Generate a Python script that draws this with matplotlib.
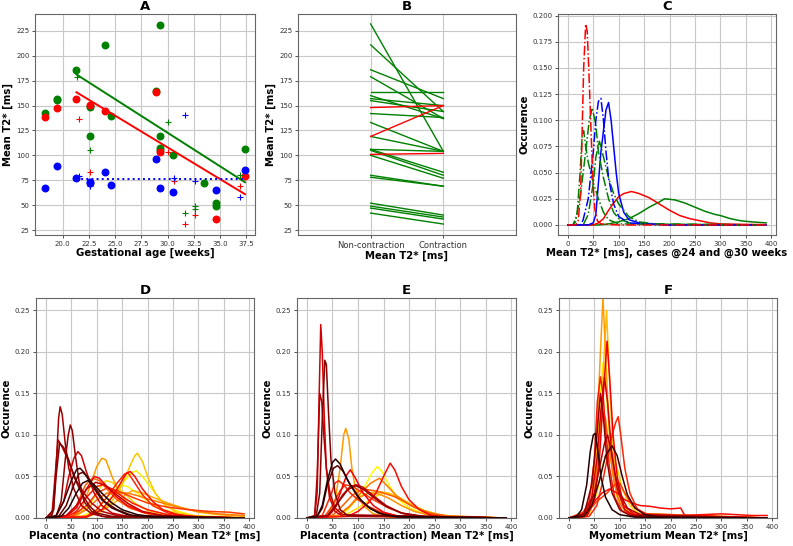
import matplotlib
matplotlib.use("Agg")
import matplotlib.pyplot as plt
import numpy as np

# ---- panel A: mean T2* vs gestational age ----
green_o_x = [18.3, 19.4, 19.4, 21.3, 22.6, 22.6, 22.6, 24.0, 24.6, 28.9, 29.3, 29.3, 29.3, 29.3, 30.5, 33.5, 34.6, 34.6, 37.4]
green_o_y = [142.6, 156.7, 155.3, 185.6, 150.0, 148.6, 119.6, 210.5, 139.1, 164.4, 231.0, 119.6, 107.2, 105.5, 100.5, 71.9, 51.7, 49.2, 106.2]
red_o_x = [18.3, 19.4, 21.3, 22.6, 24.0, 28.9, 29.3, 34.6, 37.4]
red_o_y = [138.2, 147.6, 156.7, 151.0, 144.2, 163.4, 103.8, 36.5, 79.2]
blue_o_x = [18.3, 19.4, 21.3, 22.6, 22.6, 24.0, 24.6, 28.9, 29.3, 30.5, 34.6, 37.4]
blue_o_y = [66.8, 89.4, 76.9, 73.5, 72.0, 83.0, 70.2, 96.1, 67.4, 63.4, 65.1, 85.3]
green_p_x = [21.4, 22.6, 30.0, 31.7, 32.6, 32.6, 36.9]
green_p_y = [178.9, 105.5, 133.5, 41.6, 49.2, 46.6, 80.3]
red_p_x = [21.5, 22.6, 30.0, 30.6, 31.7, 32.6, 36.9]
red_p_y = [136.5, 83.0, 103.2, 74.5, 31.5, 40.0, 69.1]
blue_p_x = [21.5, 22.6, 30.6, 31.7, 32.6, 36.9]
blue_p_y = [79.2, 69.1, 76.9, 140.2, 74.5, 57.7]
fit_x = [21.3, 37.4]
green_fit_y = [181.3, 73.0]
red_fit_y = [163.4, 61.0]
blue_fit_y = [76.0, 76.0]

# ---- panel B: paired non-contraction / contraction ----
b_green_before = [232, 211, 186, 179, 164, 160, 157, 155, 142, 133, 119, 106, 106, 105, 100, 80, 78, 52, 49, 47, 42]
b_green_after = [104, 144, 157, 137, 164, 137, 150, 144, 138, 104, 104, 104, 83, 80, 77, 69, 69, 40, 38, 36, 31]
b_red_before = [148, 119, 101]
b_red_after = [150, 150, 102]
b_labels = ["Non-contraction", "Contraction"]

# ---- panel C: two cases (solid @24, dash-dot @30) ----
c_green_24 = [(0, 0), (60, 0), (80, 0.001), (100, 0.003), (120, 0.006), (140, 0.011), (160, 0.017), (180, 0.022), (190, 0.025),
              (210, 0.024), (230, 0.021), (250, 0.017), (270, 0.013), (290, 0.010), (300, 0.009), (320, 0.006),
              (340, 0.004), (360, 0.003), (390, 0.002)]
c_red_24 = [(0, 0), (50, 0), (60, 0.002), (70, 0.006), (80, 0.014), (90, 0.021), (100, 0.027), (110, 0.030), (125, 0.032),
            (140, 0.030), (160, 0.026), (180, 0.020), (200, 0.014), (220, 0.009), (240, 0.006), (260, 0.004),
            (280, 0.002), (300, 0.001), (350, 0.0005), (390, 0.0003)]
c_blue_24 = [(0, 0), (40, 0), (50, 0.002), (55, 0.01), (60, 0.04), (65, 0.07), (70, 0.09), (75, 0.11), (80, 0.117),
             (85, 0.10), (90, 0.075), (95, 0.05), (100, 0.03), (110, 0.012), (120, 0.005), (140, 0.002),
             (160, 0.001), (200, 0), (390, 0)]
c_red_30 = [(0, 0), (15, 0), (20, 0.003), (25, 0.03), (28, 0.09), (31, 0.15), (35, 0.192), (38, 0.185), (41, 0.15),
            (44, 0.11), (47, 0.07), (50, 0.035), (53, 0.015), (58, 0.004), (65, 0.001), (100, 0), (390, 0)]
c_blue_30 = [(0, 0), (25, 0), (30, 0.005), (40, 0.025), (50, 0.07), (55, 0.10), (60, 0.118), (65, 0.121), (70, 0.10),
             (75, 0.07), (80, 0.045), (90, 0.02), (100, 0.008), (120, 0.002), (150, 0.001), (200, 0), (390, 0)]
c_green_30 = [(0, 0), (10, 0), (15, 0.003), (25, 0.03), (35, 0.07), (42, 0.10), (48, 0.112), (55, 0.095), (60, 0.07),
              (70, 0.045), (80, 0.025), (90, 0.012), (100, 0.006), (120, 0.002), (150, 0.0005), (390, 0)]
c_green_30b = [(0, 0), (10, 0), (18, 0.01), (24, 0.05), (28, 0.085), (31, 0.09), (35, 0.075), (40, 0.06), (45, 0.05),
               (50, 0.04), (60, 0.025), (70, 0.012), (80, 0.005), (100, 0.001), (390, 0)]
c_green_30c = [(0, 0), (30, 0), (40, 0.01), (50, 0.04), (55, 0.065), (62, 0.08), (70, 0.065), (80, 0.045), (90, 0.03),
               (100, 0.02), (120, 0.008), (140, 0.003), (170, 0.001), (390, 0)]

# ---- panel D: placenta, no contraction (shade = position in 'hot' colormap) ----
d_shade = [0.22, 0.20, 0.25, 0.18, 0.30, 0.08, 0.04, 0.12, 0.35, 0.40, 0.60, 0.66, 0.38, 0.42, 0.72, 0.55, 0.45,
           0.62, 0.74, 0.50, 0.68, 0.28]
d_curves = [
    [(0, 0), (10, 0), (15, 0.01), (20, 0.06), (25, 0.12), (28, 0.134), (32, 0.125), (38, 0.09), (45, 0.06), (55, 0.035), (70, 0.015), (90, 0.005), (120, 0.001), (390, 0)],
    [(0, 0), (20, 0.002), (30, 0.02), (38, 0.07), (44, 0.10), (48, 0.112), (52, 0.105), (58, 0.075), (65, 0.045), (75, 0.02), (90, 0.008), (110, 0.002), (150, 0), (390, 0)],
    [(0, 0), (12, 0.005), (18, 0.05), (24, 0.094), (30, 0.088), (40, 0.075), (50, 0.06), (60, 0.045), (75, 0.03), (90, 0.018), (110, 0.008), (140, 0.003), (200, 0), (390, 0)],
    [(0, 0), (15, 0.01), (20, 0.05), (27, 0.09), (35, 0.085), (45, 0.07), (55, 0.05), (70, 0.03), (85, 0.015), (100, 0.006), (130, 0.002), (390, 0)],
    [(0, 0), (20, 0.002), (35, 0.02), (45, 0.05), (55, 0.072), (63, 0.08), (70, 0.075), (80, 0.055), (95, 0.03), (110, 0.015), (130, 0.006), (160, 0.002), (390, 0)],
    [(0, 0), (20, 0.003), (35, 0.02), (50, 0.045), (60, 0.058), (67, 0.06), (75, 0.055), (90, 0.04), (110, 0.022), (130, 0.012), (160, 0.004), (200, 0.001), (390, 0)],
    [(0, 0), (30, 0.002), (45, 0.012), (60, 0.03), (72, 0.042), (82, 0.045), (95, 0.04), (110, 0.03), (130, 0.018), (150, 0.01), (180, 0.004), (220, 0.001), (390, 0)],
    [(0, 0), (25, 0.002), (40, 0.015), (55, 0.04), (65, 0.053), (72, 0.055), (82, 0.05), (95, 0.038), (115, 0.02), (140, 0.01), (170, 0.003), (390, 0)],
    [(0, 0), (40, 0.002), (60, 0.012), (80, 0.035), (95, 0.05), (105, 0.048), (120, 0.038), (140, 0.025), (160, 0.015), (190, 0.007), (230, 0.003), (280, 0.001), (390, 0)],
    [(0, 0), (40, 0.001), (60, 0.008), (80, 0.025), (100, 0.038), (112, 0.04), (130, 0.035), (150, 0.026), (170, 0.018), (200, 0.01), (240, 0.004), (300, 0.001), (390, 0)],
    [(0, 0), (50, 0.001), (70, 0.01), (85, 0.035), (100, 0.062), (110, 0.072), (118, 0.07), (130, 0.05), (145, 0.03), (165, 0.015), (190, 0.007), (230, 0.002), (390, 0)],
    [(0, 0), (80, 0.001), (110, 0.008), (130, 0.02), (150, 0.04), (165, 0.062), (175, 0.075), (180, 0.078), (190, 0.068), (200, 0.05), (215, 0.03), (235, 0.015), (260, 0.006), (300, 0.002), (390, 0)],
    [(0, 0), (80, 0.001), (110, 0.01), (130, 0.025), (145, 0.04), (158, 0.054), (166, 0.056), (175, 0.05), (190, 0.035), (210, 0.02), (230, 0.01), (260, 0.004), (300, 0.001), (390, 0)],
    [(0, 0), (80, 0.002), (100, 0.01), (120, 0.025), (140, 0.042), (155, 0.053), (162, 0.054), (172, 0.045), (190, 0.028), (210, 0.015), (240, 0.006), (280, 0.002), (390, 0)],
    [(0, 0), (80, 0.001), (110, 0.01), (135, 0.03), (155, 0.045), (170, 0.055), (178, 0.057), (190, 0.05), (205, 0.038), (225, 0.022), (250, 0.01), (290, 0.003), (390, 0)],
    [(0, 0), (50, 0.001), (80, 0.01), (100, 0.022), (120, 0.03), (140, 0.031), (160, 0.03), (180, 0.027), (200, 0.023), (230, 0.018), (260, 0.013), (300, 0.008), (340, 0.005), (390, 0.003)],
    [(0, 0), (50, 0.002), (80, 0.015), (100, 0.03), (120, 0.036), (140, 0.033), (170, 0.025), (200, 0.018), (240, 0.013), (280, 0.01), (320, 0.008), (360, 0.007), (390, 0.005)],
    [(0, 0), (80, 0.002), (120, 0.012), (150, 0.025), (170, 0.033), (190, 0.03), (210, 0.025), (240, 0.018), (270, 0.012), (300, 0.007), (340, 0.004), (390, 0.002)],
    [(0, 0), (70, 0.002), (100, 0.01), (125, 0.028), (145, 0.04), (160, 0.038), (180, 0.03), (200, 0.02), (230, 0.01), (270, 0.004), (320, 0.001), (390, 0)],
    [(0, 0), (40, 0.002), (60, 0.015), (78, 0.04), (92, 0.048), (105, 0.045), (120, 0.035), (140, 0.022), (165, 0.012), (200, 0.005), (250, 0.001), (390, 0)],
    [(0, 0), (60, 0.002), (85, 0.015), (105, 0.035), (118, 0.045), (130, 0.043), (150, 0.032), (175, 0.018), (200, 0.009), (240, 0.003), (390, 0)],
    [(0, 0), (40, 0.003), (60, 0.015), (80, 0.035), (98, 0.043), (115, 0.04), (135, 0.03), (160, 0.018), (190, 0.008), (230, 0.003), (390, 0)],
]

# ---- panel E: placenta, contraction ----
e_shade = [0.30, 0.18, 0.25, 0.60, 0.04, 0.10, 0.35, 0.74, 0.38, 0.55, 0.50, 0.65, 0.42, 0.28, 0.45, 0.58, 0.20, 0.70]
e_curves = [
    [(0, 0), (15, 0.002), (20, 0.03), (24, 0.15), (27, 0.233), (30, 0.2), (34, 0.12), (38, 0.06), (44, 0.025), (55, 0.008), (70, 0.002), (390, 0)],
    [(0, 0), (18, 0.002), (25, 0.03), (30, 0.12), (35, 0.19), (38, 0.185), (42, 0.13), (47, 0.07), (55, 0.03), (65, 0.01), (80, 0.003), (390, 0)],
    [(0, 0), (15, 0.003), (20, 0.05), (25, 0.15), (29, 0.14), (33, 0.1), (38, 0.06), (45, 0.03), (55, 0.012), (70, 0.004), (390, 0)],
    [(0, 0), (40, 0.002), (55, 0.02), (65, 0.06), (72, 0.1), (76, 0.108), (82, 0.095), (88, 0.06), (95, 0.035), (110, 0.015), (130, 0.005), (160, 0.001), (390, 0)],
    [(0, 0), (20, 0.002), (30, 0.015), (40, 0.045), (50, 0.067), (56, 0.071), (65, 0.065), (80, 0.045), (100, 0.025), (120, 0.013), (140, 0.006), (170, 0.002), (390, 0)],
    [(0, 0), (20, 0.002), (30, 0.012), (40, 0.04), (52, 0.06), (60, 0.063), (70, 0.057), (85, 0.04), (105, 0.022), (125, 0.011), (150, 0.004), (180, 0.001), (390, 0)],
    [(0, 0), (40, 0.001), (55, 0.012), (68, 0.035), (78, 0.052), (85, 0.058), (95, 0.048), (110, 0.03), (130, 0.015), (150, 0.007), (180, 0.002), (390, 0)],
    [(0, 0), (60, 0.002), (80, 0.01), (100, 0.025), (115, 0.04), (128, 0.055), (138, 0.062), (148, 0.055), (160, 0.04), (180, 0.022), (200, 0.012), (230, 0.005), (260, 0.002), (390, 0)],
    [(0, 0), (80, 0.002), (100, 0.008), (120, 0.018), (135, 0.03), (150, 0.05), (163, 0.066), (172, 0.058), (185, 0.038), (200, 0.022), (220, 0.01), (240, 0.004), (270, 0.001), (390, 0)],
    [(0, 0), (60, 0.003), (85, 0.015), (105, 0.03), (125, 0.042), (142, 0.048), (155, 0.04), (175, 0.027), (200, 0.016), (230, 0.008), (260, 0.003), (390, 0)],
    [(0, 0), (50, 0.003), (70, 0.015), (90, 0.028), (110, 0.035), (130, 0.033), (150, 0.03), (170, 0.026), (190, 0.02), (210, 0.013), (240, 0.006), (280, 0.002), (390, 0)],
    [(0, 0), (60, 0.002), (80, 0.012), (100, 0.025), (120, 0.03), (140, 0.032), (160, 0.03), (180, 0.025), (200, 0.018), (230, 0.009), (260, 0.004), (300, 0.001), (390, 0)],
    [(0, 0), (30, 0.003), (45, 0.025), (55, 0.042), (62, 0.045), (72, 0.04), (85, 0.03), (100, 0.022), (120, 0.014), (145, 0.007), (180, 0.002), (390, 0)],
    [(0, 0), (40, 0.002), (55, 0.012), (70, 0.028), (85, 0.038), (97, 0.04), (110, 0.037), (130, 0.027), (155, 0.015), (185, 0.006), (220, 0.002), (390, 0)],
    [(0, 0), (35, 0.002), (50, 0.015), (65, 0.033), (75, 0.04), (90, 0.038), (110, 0.03), (130, 0.022), (160, 0.012), (190, 0.005), (230, 0.001), (390, 0)],
    [(0, 0), (60, 0.003), (80, 0.012), (100, 0.024), (120, 0.03), (140, 0.029), (160, 0.024), (185, 0.015), (210, 0.008), (250, 0.002), (390, 0)],
    [(0, 0), (40, 0.003), (60, 0.018), (80, 0.034), (95, 0.039), (110, 0.035), (130, 0.025), (155, 0.014), (185, 0.006), (230, 0.002), (390, 0)],
    [(0, 0), (70, 0.002), (100, 0.012), (130, 0.025), (150, 0.03), (170, 0.027), (190, 0.02), (210, 0.013), (240, 0.006), (270, 0.002), (390, 0)],
]

# ---- panel F: myometrium ----
f_shade = [0.38, 0.20, 0.25, 0.45, 0.68, 0.30, 0.40, 0.55, 0.42, 0.74, 0.35, 0.60, 0.65, 0.04, 0.08]
f_curves = [
    [(0, 0), (30, 0.005), (50, 0.02), (65, 0.03), (80, 0.035), (95, 0.03), (110, 0.022), (125, 0.018), (140, 0.015), (160, 0.014), (180, 0.012), (200, 0.011), (220, 0.012), (228, 0.003), (260, 0.004), (300, 0.005), (330, 0.004), (360, 0.003), (390, 0.003)],
    [(0, 0), (30, 0.005), (45, 0.04), (55, 0.1), (62, 0.15), (68, 0.12), (75, 0.07), (85, 0.03), (100, 0.01), (120, 0.003), (390, 0)],
    [(0, 0), (35, 0.005), (50, 0.03), (60, 0.06), (70, 0.09), (76, 0.1), (82, 0.085), (90, 0.055), (100, 0.03), (115, 0.012), (140, 0.004), (390, 0)],
    [(0, 0), (40, 0.01), (55, 0.02), (65, 0.025), (75, 0.03), (90, 0.04), (100, 0.042), (110, 0.03), (125, 0.015), (150, 0.005), (390, 0)],
    [(0, 0), (40, 0.005), (55, 0.03), (65, 0.06), (75, 0.08), (85, 0.08), (95, 0.06), (105, 0.035), (120, 0.015), (140, 0.004), (390, 0)],
    [(0, 0), (30, 0.003), (45, 0.025), (55, 0.07), (63, 0.13), (70, 0.17), (76, 0.14), (84, 0.08), (95, 0.035), (110, 0.01), (130, 0.002), (390, 0)],
    [(0, 0), (25, 0.003), (40, 0.02), (50, 0.07), (56, 0.14), (62, 0.17), (67, 0.15), (73, 0.1), (80, 0.06), (90, 0.025), (105, 0.008), (130, 0.002), (390, 0)],
    [(0, 0), (35, 0.003), (50, 0.03), (60, 0.09), (66, 0.13), (72, 0.12), (80, 0.08), (90, 0.04), (100, 0.018), (115, 0.006), (390, 0)],
    [(0, 0), (40, 0.002), (55, 0.015), (65, 0.04), (75, 0.07), (85, 0.1), (92, 0.115), (97, 0.122), (102, 0.1), (110, 0.06), (120, 0.03), (135, 0.01), (160, 0.003), (390, 0)],
    [(0, 0), (30, 0.002), (45, 0.02), (55, 0.08), (62, 0.15), (67, 0.187), (72, 0.16), (80, 0.1), (90, 0.05), (100, 0.02), (120, 0.005), (390, 0)],
    [(0, 0), (35, 0.002), (50, 0.02), (60, 0.07), (68, 0.15), (75, 0.213), (80, 0.17), (87, 0.1), (95, 0.05), (108, 0.015), (130, 0.004), (390, 0)],
    [(0, 0), (30, 0.002), (45, 0.02), (55, 0.1), (62, 0.2), (67, 0.265), (72, 0.2), (78, 0.12), (85, 0.06), (95, 0.025), (110, 0.008), (130, 0.002), (390, 0)],
    [(0, 0), (35, 0.002), (50, 0.02), (60, 0.08), (68, 0.18), (74, 0.25), (79, 0.18), (85, 0.1), (92, 0.05), (105, 0.015), (125, 0.004), (390, 0)],
    [(0, 0), (15, 0.002), (25, 0.01), (35, 0.04), (42, 0.08), (48, 0.1), (52, 0.102), (57, 0.08), (63, 0.05), (72, 0.025), (85, 0.01), (100, 0.004), (130, 0.001), (390, 0)],
    [(0, 0), (30, 0.002), (45, 0.015), (60, 0.045), (72, 0.075), (85, 0.087), (95, 0.075), (105, 0.05), (115, 0.028), (130, 0.012), (150, 0.004), (180, 0.001), (390, 0)],
]

TICK_FS = 5.0
LABEL_FS = 7.3
TITLE_FS = 9.5


def style(ax, title, xlabel, ylabel):
    ax.set_title(title, fontsize=TITLE_FS, fontweight="bold", pad=3)
    ax.set_xlabel(xlabel, fontsize=LABEL_FS, fontweight="bold", labelpad=1)
    ax.set_ylabel(ylabel, fontsize=LABEL_FS, fontweight="bold", labelpad=2)
    ax.grid(True, color="#c8c8c8", linewidth=0.8)
    ax.set_axisbelow(True)
    ax.tick_params(labelsize=TICK_FS, length=2.5, width=0.6, colors="#333333", pad=1.5)
    for s in ax.spines.values():
        s.set_color("#666666")
        s.set_linewidth(0.8)


def draw_curve(ax, pts, **kw):
    xs = [p[0] for p in pts]
    ys = [p[1] for p in pts]
    ax.plot(xs, ys, **kw)


fig = plt.figure(figsize=(7.93, 5.46), dpi=100)
W, H = 793.0, 546.0


def axes_px(left, top, right, bottom):
    return fig.add_axes([left / W, 1 - bottom / H, (right - left) / W, (bottom - top) / H])


# A
ax = axes_px(35, 14, 255, 235)
ax.plot(green_o_x, green_o_y, "o", color="green", ms=4.7)
ax.plot(red_o_x, red_o_y, "o", color="red", ms=4.7)
ax.plot(blue_o_x, blue_o_y, "o", color="blue", ms=4.7)
ax.plot(green_p_x, green_p_y, "+", color="green", ms=5, mew=0.8)
ax.plot(red_p_x, red_p_y, "+", color="red", ms=5, mew=0.8)
ax.plot(blue_p_x, blue_p_y, "+", color="blue", ms=5, mew=0.8)
ax.plot(fit_x, green_fit_y, color="green", lw=1.4)
ax.plot(fit_x, red_fit_y, color="red", lw=1.4)
ax.plot(fit_x, blue_fit_y, ":", color="blue", lw=1.4)
ax.set_xticks(np.arange(20, 38, 2.5))
ax.set_yticks(np.arange(25, 226, 25))
ax.set_ylim(20, 242)
style(ax, "A", "Gestational age [weeks]", "Mean T2* [ms]")

# B
ax = axes_px(298, 14, 516, 235)
for a, b in zip(b_green_before, b_green_after):
    ax.plot([0, 1], [a, b], color="green", lw=1.0)
for a, b in zip(b_red_before, b_red_after):
    ax.plot([0, 1], [a, b], color="red", lw=1.0)
ax.set_xlim(-1, 2)
ax.set_ylim(20, 242)
ax.set_xticks([0, 1])
ax.set_xticklabels(b_labels)
ax.set_yticks(np.arange(25, 226, 25))
style(ax, "B", "Mean T2* [ms]", "Mean T2* [ms]")
ax.tick_params(axis="x", labelsize=6.0)

# C
ax = axes_px(558, 14, 776, 235)
draw_curve(ax, c_green_24, color="green", lw=1.1)
draw_curve(ax, c_red_24, color="red", lw=1.1)
draw_curve(ax, c_blue_24, color="blue", lw=1.1)
draw_curve(ax, c_green_30b, color="green", lw=1.1, ls="-.")
draw_curve(ax, c_green_30c, color="green", lw=1.1, ls="-.")
draw_curve(ax, c_green_30, color="green", lw=1.1, ls="-.")
draw_curve(ax, c_blue_30, color="blue", lw=1.1, ls="-.")
draw_curve(ax, c_red_30, color="red", lw=1.1, ls="-.")
ax.set_xlim(-19.5, 409.5)
ax.set_ylim(-0.0096, 0.2016)
ax.set_xticks(np.arange(0, 401, 50))
ax.set_yticks(np.arange(0, 0.201, 0.025))
ax.yaxis.set_major_formatter(matplotlib.ticker.FormatStrFormatter("%.3f"))
style(ax, "C", "Mean T2* [ms], cases @24 and @30 weeks", "Occurence")

# D, E, F
panels = [
    ((36, 298, 254, 518), "D", "Placenta (no contraction) Mean T2* [ms]", d_curves, d_shade),
    ((297, 298, 516, 518), "E", "Placenta (contraction) Mean T2* [ms]", e_curves, e_shade),
    ((559, 298, 777, 518), "F", "Myometrium Mean T2* [ms]", f_curves, f_shade),
]
for box, title, xlabel, curves, shades in panels:
    ax = axes_px(*box)
    order = np.argsort(shades)[::-1]
    for i in order:
        draw_curve(ax, curves[i], color=plt.cm.hot(shades[i]), lw=1.1)
    ax.set_xlim(-19.5, 409.5)
    ax.set_ylim(0, 0.265)
    ax.set_xticks(np.arange(0, 401, 50))
    ax.set_yticks(np.arange(0, 0.26, 0.05))
    ax.yaxis.set_major_formatter(matplotlib.ticker.FormatStrFormatter("%.2f"))
    style(ax, title, xlabel, "Occurence")

fig.savefig("out.png", dpi=100)
